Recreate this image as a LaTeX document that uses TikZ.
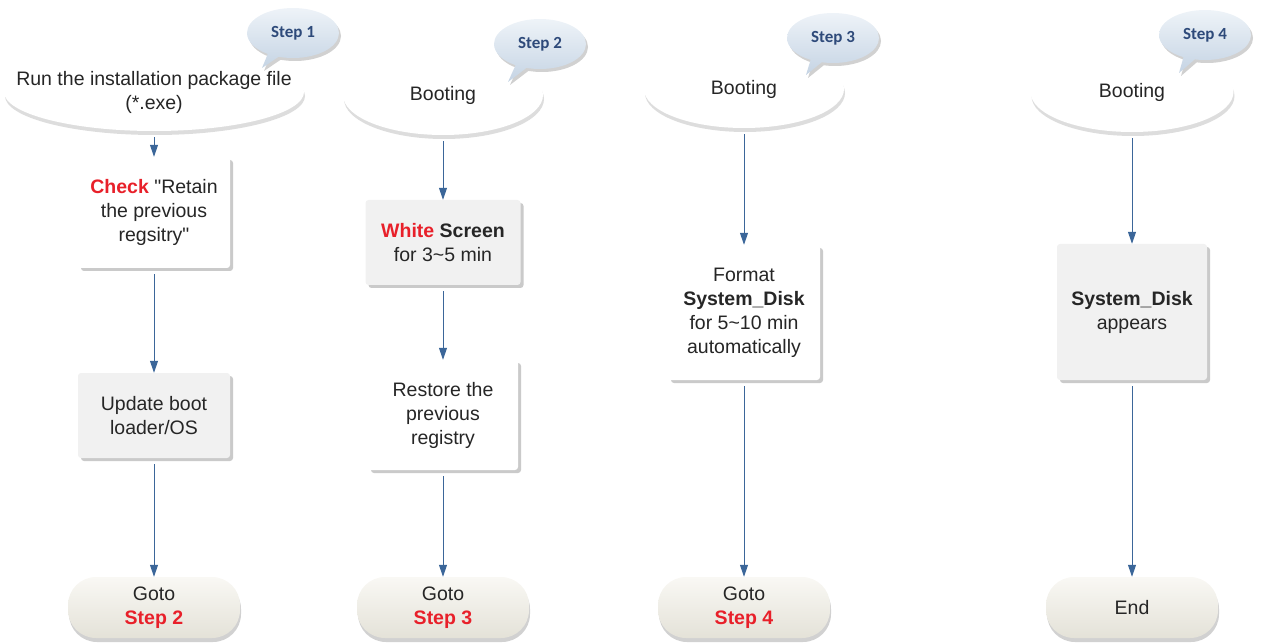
\documentclass[tikz,border=0pt]{standalone}
\usepackage{fontspec}
\setmainfont{Liberation Sans}[Ligatures=TeXOff]
\newfontfamily\stepfont{Carlito}
\usetikzlibrary{shapes.geometric,shapes.callouts,shadows,arrows.meta}
\definecolor{arrowblue}{HTML}{3B6699}
\definecolor{stepblue}{HTML}{2E4A7A}
\definecolor{bubtop}{HTML}{EEF3F8}
\definecolor{bubbot}{HTML}{C5D4E4}
\definecolor{txt}{HTML}{262626}
\definecolor{hot}{HTML}{E8202A}
\definecolor{pilltop}{HTML}{F9F8F4}
\definecolor{pillbot}{HTML}{E4E2D8}
\definecolor{graybox}{HTML}{F1F1F1}
\newcommand{\red}[1]{\textcolor{hot}{\textbf{#1}}}
\begin{document}
\begin{tikzpicture}[x=1pt,y=-1pt,
  every node/.style={font=\fontsize{19.5}{24}\selectfont, text=txt, align=center},
  ell/.style={ellipse, fill=white, inner sep=0pt,
    drop shadow={shadow xshift=1pt, shadow yshift=-4pt, opacity=0.22, fill=black!60}},
  wbox/.style={rectangle, rounded corners=3pt, fill=white, inner sep=0pt,
    drop shadow={shadow xshift=3pt, shadow yshift=-3pt, opacity=0.35, fill=black!60}},
  gbox/.style={wbox, fill=graybox},
  pill/.style={rectangle, rounded corners=28pt, top color=pilltop, bottom color=pillbot,
    inner sep=0pt, minimum height=61pt, minimum width=172pt,
    drop shadow={shadow xshift=1pt, shadow yshift=-4pt, opacity=0.3, fill=black!60}},
  bubble/.style={ellipse callout, top color=bubtop, bottom color=bubbot, minimum width=92pt, minimum height=50pt,
    inner sep=0pt, font=\stepfont\fontsize{17}{19}\selectfont\bfseries, text=stepblue,
    drop shadow={shadow xshift=2pt, shadow yshift=-3pt, opacity=0.3, fill=black!60}},
  arr/.style={draw=arrowblue, line width=1pt, -{Triangle[length=12pt,width=8pt]}, shorten <=6pt}
]
\useasboundingbox (0,0) rectangle (1266,644);

% column 1
\node[ell, minimum width=300pt, minimum height=78pt,
  label={center:{Run the installation package file\\(*.exe)}}] (e1) at (154,92) {};
\node[bubble, callout absolute pointer={(262,68)}] (s1) at (293,33) {Step 1};
\node[wbox, minimum width=152pt, minimum height=111pt] (b1) at (154,212.5) {\red{Check} "Retain\\the previous\\regsitry"};
\node[gbox, minimum width=152pt, minimum height=85pt] (b2) at (154,415.5) {Update boot\\loader/OS};
\node[pill] (p1) at (154,607.5) {Goto\\\red{Step 2}};
\draw[arr] (e1) -- (b1);
\draw[arr] (b1) -- (b2);
\draw[arr] (b2) -- (p1);

% column 2
\node[ell, minimum width=200pt, minimum height=80pt, label={center:Booting}] (e2) at (443,95) {};
\node[bubble, callout absolute pointer={(508,82)}] (s2) at (540,44) {Step 2};
\node[gbox, minimum width=155pt, minimum height=85pt] (b3) at (443,242.5) {\red{White} \textbf{Screen}\\for 3\textasciitilde5 min};
\node[wbox, minimum width=150pt, minimum height=110pt] (b4) at (443,415) {Restore the\\previous\\registry};
\node[pill] (p2) at (443,607.5) {Goto\\\red{Step 3}};
\draw[arr] (e2) -- (b3);
\draw[arr] (b3) -- (b4);
\draw[arr] (b4) -- (p2);

% column 3
\node[ell, minimum width=200pt, minimum height=78pt, label={center:Booting}] (e3) at (744,89) {};
\node[bubble, callout absolute pointer={(806,75)}] (s3) at (833,38) {Step 3};
\node[wbox, minimum width=152pt, minimum height=135pt] (b5) at (744,312.5) {Format\\\textbf{System\_Disk}\\for 5\textasciitilde10 min\\automatically};
\node[pill] (p3) at (744,607.5) {Goto\\\red{Step 4}};
\draw[arr] (e3) -- (b5);
\draw[arr] (b5) -- (p3);

% column 4
\node[ell, minimum width=203pt, minimum height=80pt, label={center:Booting}] (e4) at (1132,92) {};
\node[bubble, callout absolute pointer={(1179,73)}] (s4) at (1205,35) {Step 4};
\node[gbox, minimum width=150pt, minimum height=136pt] (b6) at (1132,312) {\textbf{System\_Disk}\\appears};
\node[pill] (p4) at (1132,607.5) {End};
\draw[arr] (e4) -- (b6);
\draw[arr] (b6) -- (p4);
\end{tikzpicture}
\end{document}
